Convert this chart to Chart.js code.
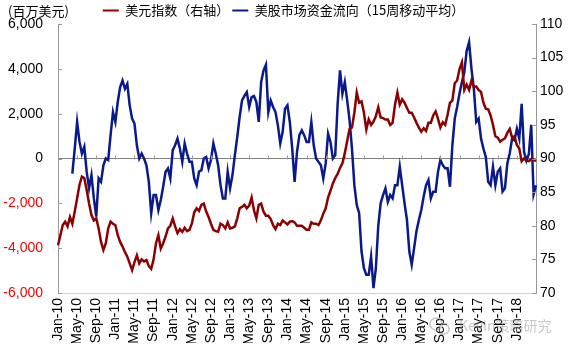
<!DOCTYPE html>
<html>
<head>
<meta charset="utf-8">
<script src="https://cdn.jsdelivr.net/npm/chart.js@4/dist/chart.umd.min.js"></script>
<style>
  html, body { margin: 0; padding: 0; background: #fff; }
</style>
</head>
<body>
<canvas id="chart" width="570" height="350"></canvas>
<script>
// half-monthly points, Jan-10 .. May-18 (201 points)
const tickLabels = ['Jan-10', 'May-10', 'Sep-10', 'Jan-11', 'May-11', 'Sep-11', 'Jan-12', 'May-12', 'Sep-12',
  'Jan-13', 'May-13', 'Sep-13', 'Jan-14', 'May-14', 'Sep-14', 'Jan-15', 'May-15', 'Sep-15',
  'Jan-16', 'May-16', 'Sep-16', 'Jan-17', 'May-17', 'Sep-17', 'Jan-18'];

// 美元指数 (right axis)
const dollarIndex = [
  77.1, 78.6, 80.1, 80.6, 79.9, 81.3, 80.3, 82.1, 84.1, 86.1, 87.3, 87.1, 85.3, 83.3, 81.6, 80.8, 81.1,
  79.6, 77.6, 76.4, 77.4, 79.6, 80.6, 80.3, 80.1, 78.6, 77.6, 76.9, 76.1, 75.4, 74.4, 73.4, 74.6, 75.6,
  74.4, 75.0, 74.7, 74.9, 74.0, 73.6, 75.0, 77.4, 78.6, 76.6, 77.4, 78.4, 79.6, 80.0, 81.1, 79.9, 78.9,
  79.5, 79.1, 79.7, 79.2, 79.4, 80.3, 82.0, 82.6, 82.2, 83.1, 83.3, 82.1, 81.3, 80.3, 79.4, 79.2, 79.1,
  80.3, 80.1, 79.6, 80.5, 79.6, 79.7, 79.9, 81.1, 82.6, 82.8, 83.1, 82.6, 83.0, 84.2, 82.3, 81.1, 83.1,
  83.3, 82.1, 81.5, 81.5, 81.0, 80.1, 79.5, 80.3, 80.1, 80.8, 80.5, 80.2, 80.6, 80.7, 80.5, 80.0,
  80.0, 80.0, 79.7, 79.4, 79.4, 80.5, 80.3, 80.3, 80.1, 80.8, 81.8, 82.6, 84.2, 85.2, 86.3, 87.1, 87.7,
  88.6, 89.3, 90.8, 92.6, 94.4, 94.6, 96.8, 99.8, 98.3, 98.5, 96.8, 94.3, 95.8, 95.0, 95.5, 96.3, 97.6,
  96.1, 96.0, 95.8, 95.8, 95.0, 95.3, 98.0, 99.8, 98.0, 98.8, 98.3, 97.5, 96.8, 96.8, 96.1, 95.3, 94.6,
  94.0, 94.5, 94.1, 95.3, 95.3, 96.4, 97.0, 95.9, 94.6, 95.4, 95.0, 96.5, 98.3, 98.6, 101.2, 101.6,
  103.3, 104.3, 100.2, 101.0, 100.2, 101.6, 100.6, 100.7, 100.2, 99.9, 98.3, 97.4, 97.3, 96.4, 95.0,
  93.3, 93.1, 92.5, 92.8, 93.0, 93.8, 94.4, 93.1, 93.3, 92.0, 91.5, 89.6, 90.0, 89.7, 89.6, 89.9, 89.8, 89.6
];

// 美股市场资金流向, 15-week moving average (million USD, left axis)
const fundFlow = [
  null, null, null, null, null, null,
  -670, 440, 1630, 740, 220, 520, -590, -1330, -740, -1780, -2590, -890, -1040, -300, 0, -70,
  1040, 2070, 1630, 2520, 3190, 3480, 3110, 3330, 2370, 1780, 1560, 590,
  0, 220, 0, -300, -1040, -2440, -1630, -1630, -2300, -1850, -1260, -590, -440, -890, 370, 590, 890,
  440, -150, 670, 220, -150, -150, -890, -1190, -590, -520, 0, 70, -440, -70, 670, 220, -300,
  -1190, -1780, -1780, -590, -1330, -740, 150, 960, 1850, 2590, 2790, 2960, 2300, 2740, 2790, 2520,
  1630, 3410, 3930, 4180, 2070, 2590, 2300, 2070, 1480, 670, 1190, 2220, 2370, 1630, 440, -1040, 300,
  1040, 1260, 1040, 740, 740, 1630, 590, 0, -150, -300, -890, -220, 1110, 740, 0, 150, 2440, 3930,
  2890, 3410, 2590, 1700, 440, -1190, -2070, -2440, -4150, -4890, -5190, -5190, -4370, -5780, -4890, -3000,
  -2000, -1630, -1330, -1930, -1630, -1780, -1190, -1190, -370, -1190, -2000, -2740, -4150, -4740, -4000,
  -3230, -2740, -2300, -1700, -1190, -960, -1780, -1480, -1480, -590, -70, -300, -440, -440, -1260, 590,
  1780, 2300,
  2900, 3410, 3850, 4810, 5190, 4000, 3110, 1630, 1780, 890, 440, 70, -1040, -1190, -370, -1190, -590,
  -440, -1480, -1330, -220, 220, 890, 810, 1330, 890, 2440, 300, -100, 200, 1500, -1600, -1200
];

// one category per half month
const periods = dollarIndex.map((v, i) => 'p' + i);

const axisGray = '#999999';
const tickFont = { family: '"Liberation Sans", Arial, sans-serif', size: 14 };

const extras = {
  id: 'extras',
  afterDraw(chart) {
    const ctx = chart.ctx;
    const y = chart.scales.y, y1 = chart.scales.y1, x = chart.scales.x;
    const area = chart.chartArea;
    ctx.save();
    ctx.strokeStyle = axisGray;
    ctx.lineWidth = 1;
    ctx.beginPath();
    y.ticks.forEach(t => {
      const py = Math.round(y.getPixelForValue(t.value)) + 0.5;
      ctx.moveTo(area.left, py); ctx.lineTo(area.left + 4, py);
    });
    y1.ticks.forEach(t => {
      const py = Math.round(y1.getPixelForValue(t.value)) + 0.5;
      ctx.moveTo(area.right - 4, py); ctx.lineTo(area.right, py);
    });
    const zero = Math.round(y.getPixelForValue(0)) + 0.5;
    for (let i = 8; i < periods.length; i += 8) {
      const px = Math.round(x.getPixelForValue(i)) + 0.5;
      ctx.moveTo(px, zero - 4); ctx.lineTo(px, zero);
    }
    ctx.stroke();

    // unit
    ctx.fillStyle = '#000';
    ctx.font = '13px "Noto Sans CJK SC"';
    ctx.textBaseline = 'middle';
    ctx.textAlign = 'left';
    ctx.fillText('(百万美元)', 8, 11);

    // watermark
    ctx.globalAlpha = 0.55;
    ctx.strokeStyle = '#9a9a9a';
    ctx.lineWidth = 1.5;
    ctx.beginPath(); ctx.arc(436, 324, 6, 0, Math.PI * 2); ctx.stroke();
    ctx.beginPath(); ctx.arc(444, 329, 5, 0, Math.PI * 2); ctx.stroke();
    ctx.fillStyle = '#9a9a9a';
    ctx.font = '14px "Noto Sans CJK SC"';
    ctx.fillText('Kevin策略研究', 459, 326);
    ctx.restore();
  }
};

new Chart(document.getElementById('chart'), {
  type: 'line',
  data: {
    labels: periods,
    datasets: [
      {
        label: '美元指数（右轴）',
        data: dollarIndex,
        yAxisID: 'y1',
        borderColor: '#8B0000',
        borderWidth: 2.5,
        pointRadius: 0,
        tension: 0
      },
      {
        label: '美股市场资金流向（15周移动平均）',
        data: fundFlow,
        yAxisID: 'y',
        borderColor: '#0A1A8A',
        borderWidth: 2.5,
        pointRadius: 0,
        tension: 0
      }
    ]
  },
  options: {
    responsive: false,
    animation: false,
    layout: { padding: { left: 3, right: 6, top: 1, bottom: 7 } },
    plugins: {
      tooltip: { enabled: false },
      legend: {
        position: 'top',
        maxHeight: 23,
        labels: {
          font: { family: '"Noto Sans CJK SC"', size: 13 },
          color: '#000',
          boxWidth: 16,
          boxHeight: 2,
          padding: 3,
          generateLabels: (chart) => chart.data.datasets.map((ds, i) => ({
            text: ds.label,
            fillStyle: ds.borderColor,
            strokeStyle: ds.borderColor,
            lineWidth: 0,
            datasetIndex: i,
            hidden: false
          }))
        }
      }
    },
    scales: {
      x: {
        grid: { display: false },
        border: { display: true, color: '#d0d0d0' },
        afterFit: (s) => { s.height = 50; },
        ticks: {
          autoSkip: false,
          minRotation: 90,
          maxRotation: 90,
          padding: -3,
          color: '#000',
          font: tickFont,
          callback: (v, i) => (i % 8 === 0 && i / 8 < tickLabels.length) ? tickLabels[i / 8] : ''
        }
      },
      y: {
        position: 'left',
        min: -6000,
        max: 6000,
        afterFit: (s) => { s.width = 55; },
        border: { display: true, color: axisGray },
        grid: {
          drawTicks: false,
          color: (c) => (c.tick && c.tick.value === 0) ? '#808080' : 'rgba(0,0,0,0)'
        },
        ticks: {
          stepSize: 2000,
          padding: 15,
          font: tickFont,
          color: (c) => c.tick.value < 0 ? '#ff0000' : '#000',
          callback: (v) => v.toLocaleString('en-US')
        }
      },
      y1: {
        position: 'right',
        min: 70,
        max: 110,
        afterFit: (s) => { s.width = 28; },
        border: { display: true, color: axisGray },
        grid: { display: false, drawTicks: false },
        ticks: {
          stepSize: 5,
          padding: 4,
          color: '#000',
          font: tickFont
        }
      }
    }
  },
  plugins: [extras]
});
</script>
</body>
</html>
